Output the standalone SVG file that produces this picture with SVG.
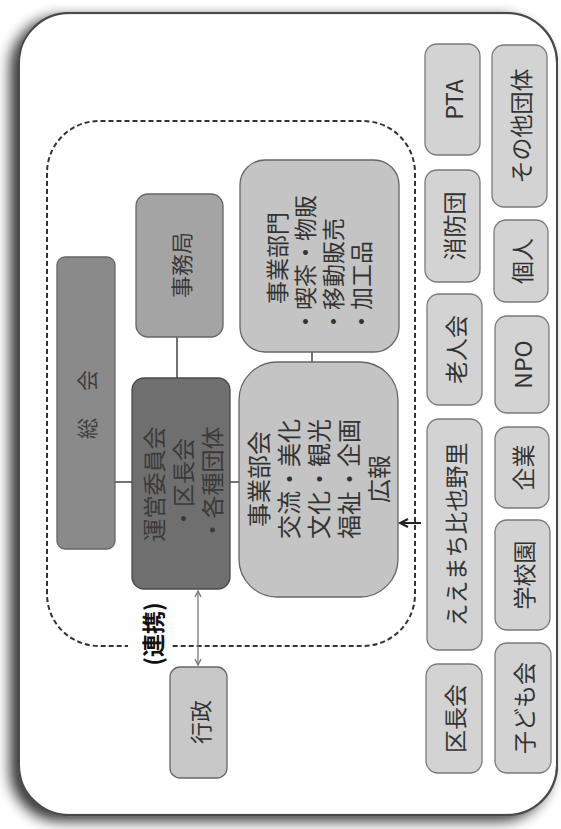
<svg xmlns="http://www.w3.org/2000/svg" width="561" height="829" viewBox="0 0 561 829">
<defs>
<style>
text{font-family:"Noto Sans CJK JP","Noto Sans CJK SC",sans-serif;dominant-baseline:central;text-anchor:middle;fill:#333;font-size:23px}
.n rect{stroke:#666;stroke-width:1.3}
.o rect{fill:#d3d3d3;stroke:#7a7a7a;stroke-width:1.3}
.c line{stroke:#444;stroke-width:1.5;fill:none}
</style>
<filter id="sh" x="-6%" y="-8%" width="112%" height="116%">
<feGaussianBlur in="SourceAlpha" stdDeviation="7"/>
<feOffset dx="-5" dy="-8" result="b"/>
<feComponentTransfer><feFuncA type="linear" slope="0.8"/></feComponentTransfer>
<feMerge><feMergeNode/><feMergeNode in="SourceGraphic"/></feMerge>
</filter>
<marker id="ah" markerUnits="userSpaceOnUse" markerWidth="12" markerHeight="12" refX="9" refY="5" orient="auto">
<path d="M1,1 L9,5 L1,9" fill="none" stroke="#222" stroke-width="2"/>
</marker>
<marker id="ag" markerUnits="userSpaceOnUse" markerWidth="10" markerHeight="10" refX="7" refY="4" orient="auto-start-reverse">
<path d="M1,1 L7,4 L1,7" fill="none" stroke="#777" stroke-width="1.3"/>
</marker>
</defs>
<rect width="561" height="829" fill="#fff"/>
<g transform="translate(0,829) rotate(-90)">
<g id="frame"><rect x="14" y="19" width="802" height="538" rx="50" fill="#fff" stroke="#4a4a4a" stroke-width="2.2" filter="url(#sh)"/></g>
<g id="zone">
<rect x="183" y="47" width="525" height="368" rx="52" fill="none" stroke="#333" stroke-width="2" stroke-dasharray="5 3"/>
</g>
<g class="c" id="connectors">
<line x1="347" y1="115" x2="347" y2="132"/>
<line x1="347" y1="230" x2="347" y2="239"/>
<line x1="451" y1="177" x2="492" y2="177"/>
<line x1="467" y1="312" x2="477" y2="312"/>
<line x1="238" y1="198" x2="164" y2="198" style="stroke:#777;stroke-width:1.3" marker-start="url(#ag)" marker-end="url(#ag)"/>
<line x1="306" y1="421" x2="306" y2="400" style="stroke:#222;stroke-width:2" marker-end="url(#ah)"/>
</g>
<g id="renkei">
<rect x="163" y="128" width="64" height="44" fill="#fff"/>
<text x="195" y="152" style="font-weight:bold;fill:#111;font-size:23px">(連携)</text>
</g>
<g class="n" id="soukai">
<rect x="280" y="57" width="292" height="58" rx="8" fill="#8a8a8a"/>
<text x="426" y="86" style="font-size:21px;letter-spacing:3px;fill:#3d3d3d">総　会</text>
</g>
<g class="n" id="jimukyoku">
<rect x="492" y="136" width="143" height="87" rx="12" fill="#a4a4a4"/>
<text x="564" y="180" style="fill:#3a3a3a;font-size:22px">事務局</text>
</g>
<g class="n" id="unei">
<rect x="240" y="132" width="211" height="98" rx="12" fill="#6f6f6f" style="stroke:#4a4a4a"/>
<text style="fill:#3a3a3a"><tspan x="345" y="153">運営委員会</tspan><tspan x="345" y="182">・区長会</tspan><tspan x="345" y="211">・各種団体</tspan></text>
</g>
<g class="n" id="jigyoubumon">
<rect x="477" y="240" width="192" height="159" rx="25" fill="#c4c4c4"/>
<text x="571" y="276">事業部門</text>
<text style="text-anchor:start"><tspan x="496" y="304">・喫茶・物販</tspan><tspan x="496" y="332">・移動販売</tspan><tspan x="496" y="360">・加工品</tspan></text>
</g>
<g class="n" id="jigyoubukai">
<rect x="232" y="239" width="235" height="159" rx="38" fill="#c4c4c4"/>
<text style="font-size:24px"><tspan x="350" y="257">事業部会</tspan><tspan x="350" y="287">交流・美化</tspan><tspan x="350" y="317">文化・観光</tspan><tspan x="350" y="347">福祉・企画</tspan><tspan x="350" y="377">広報</tspan></text>
</g>
<g class="n" id="gyousei">
<rect x="51" y="170" width="111" height="57" rx="10" fill="#c8c8c8"/>
<text x="107" y="199" style="font-size:22px">行政</text>
</g>
<g class="o" id="pta"><rect x="674" y="425" width="111" height="55" rx="12"/><text x="729.5" y="453">PTA</text></g>
<g class="o" id="sonota"><rect x="622" y="492" width="162" height="55" rx="12"/><text x="703" y="520">その他団体</text></g>
<g class="o" id="shoubou"><rect x="547" y="425" width="112" height="55" rx="12"/><text x="603" y="453">消防団</text></g>
<g class="o" id="kojin"><rect x="527" y="494" width="82" height="54" rx="12"/><text x="568" y="521">個人</text></g>
<g class="o" id="roujin"><rect x="424" y="427" width="111" height="55" rx="12"/><text x="479.5" y="455">老人会</text></g>
<g class="o" id="npo"><rect x="416" y="495" width="97" height="54" rx="12"/><text x="464.5" y="522">NPO</text></g>
<g class="o" id="eemachi"><rect x="179" y="427" width="231" height="55" rx="12"/><text x="294.5" y="455">ええまち比也野里</text></g>
<g class="o" id="kigyou"><rect x="321" y="495" width="81" height="54" rx="12"/><text x="361.5" y="522">企業</text></g>
<g class="o" id="gakkou"><rect x="199" y="495" width="110" height="55" rx="12"/><text x="254" y="523">学校園</text></g>
<g class="o" id="kuchou"><rect x="56" y="426" width="109" height="56" rx="12"/><text x="110.5" y="454">区長会</text></g>
<g class="o" id="kodomo"><rect x="56" y="495" width="130" height="56" rx="12"/><text x="121" y="523">子ども会</text></g>
</g>
</svg>
